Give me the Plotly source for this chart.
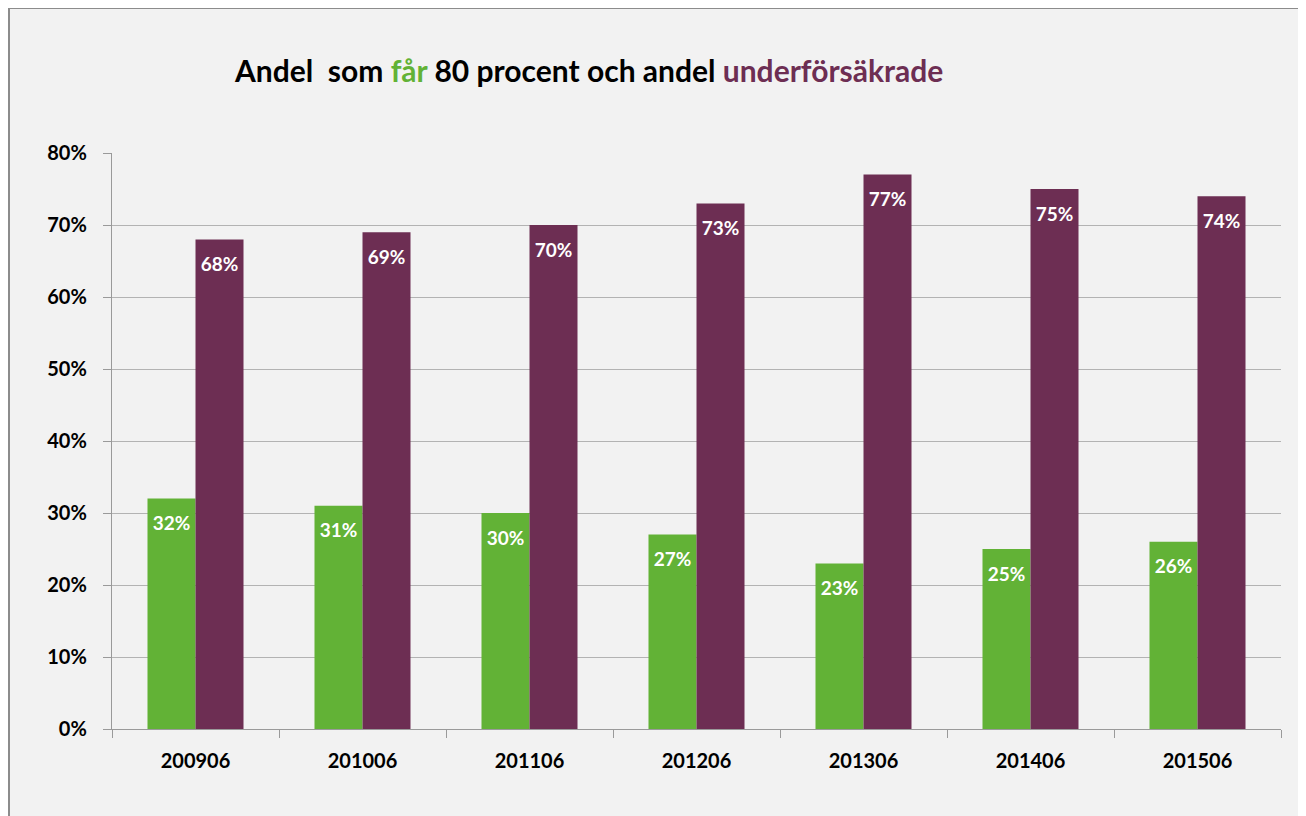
import plotly.graph_objects as go

categories = ["200906", "201006", "201106", "201206", "201306", "201406", "201506"]
far_80 = [0.32, 0.31, 0.30, 0.27, 0.23, 0.25, 0.26]
underforsakrade = [0.68, 0.69, 0.70, 0.73, 0.77, 0.75, 0.74]
y_ticks = [0, 0.1, 0.2, 0.3, 0.4, 0.5, 0.6, 0.7, 0.8]

GREEN = "#62b236"
PURPLE = "#6d2e53"
FONT = "Lato, Calibri, 'Open Sans', sans-serif"

# page is offset by 8px (body margin), so compensate
OFF = 8
W, H = 1306 - OFF, 816 - OFF
L, R, T, B = 112 - OFF, 25, 153 - OFF, 87
pw, ph = W - L - R, H - T - B


def px(x):
    return (x - OFF - L) / pw


def py(y):
    return (H - B - (y - OFF)) / ph


fig = go.Figure()
series = [("Får 80 procent", far_80, GREEN, "a"),
          ("Underförsäkrade", underforsakrade, PURPLE, "b")]
for name, vals, col, grp in series:
    fig.add_trace(go.Bar(
        x=categories, y=vals, name=name, offsetgroup=grp,
        marker=dict(color=col, line=dict(width=0)),
    ))
for name, vals, col, grp in series:
    fig.add_trace(go.Scatter(
        x=categories, y=vals, name=name + " etikett", offsetgroup=grp,
        mode="markers+text",
        marker=dict(size=26, opacity=0, color=col),
        text=[f"{round(v*100)}%" for v in vals],
        textposition="bottom center",
        textfont=dict(color="white", size=19, family=FONT, weight="bold"),
        hoverinfo="skip", cliponaxis=False,
    ))

fig.add_shape(type="rect", xref="paper", yref="paper",
              x0=px(9), x1=px(1303), y0=py(840), y1=py(8),
              fillcolor="#f2f2f2", line=dict(color="#8c8c8c", width=2), layer="below")

fig.add_annotation(
    xref="paper", yref="paper", x=px(588), y=py(70), xanchor="center", yanchor="middle",
    text=("<b>Andel  som <span style='color:#62b236'>får</span> 80 procent och andel "
          "<span style='color:#6d2e53'>underförsäkrade</span></b>"),
    showarrow=False, font=dict(size=30, family=FONT, color="black"))

fig.add_annotation(
    xref="paper", yref="paper", x=px(10), y=py(6), xanchor="left", yanchor="bottom",
    text="<b>Diagram 1</b>", showarrow=False,
    font=dict(size=18, family="Liberation Serif, serif", color="black"))

fig.update_layout(
    width=W, height=H,
    margin=dict(l=L, r=R, t=T, b=B),
    paper_bgcolor="white", plot_bgcolor="white",
    barmode="group", bargap=0.425, bargroupgap=0,
    scattermode="group", scattergap=0.425,
    showlegend=False,
    font=dict(family=FONT, color="black"),
)
fig.update_yaxes(
    range=[0, 0.8], tickvals=y_ticks, tickformat=".0%",
    showgrid=True, gridcolor="#b3b3b3", gridwidth=1.3,
    showline=True, linecolor="#9a9a9a", linewidth=1.3,
    ticks="outside", ticklen=8, tickcolor="#9a9a9a",
    tickfont=dict(size=20, family=FONT, weight="bold"),
    ticklabelstandoff=12,
    zeroline=False,
)
fig.update_xaxes(
    showline=True, linecolor="#9a9a9a", linewidth=1.3,
    ticks="outside", ticklen=8, tickcolor="#9a9a9a", tickson="boundaries",
    tickfont=dict(size=20, family=FONT, weight="bold"),
    ticklabelstandoff=14,
)

fig.write_html("out.html")
